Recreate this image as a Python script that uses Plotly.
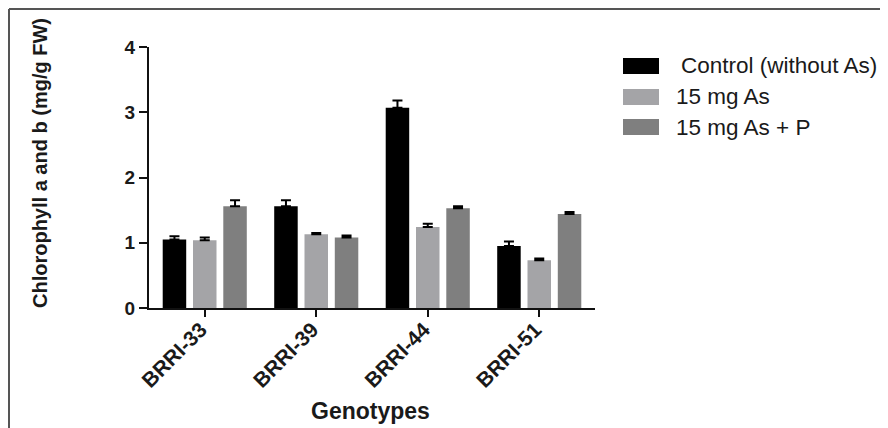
import plotly.graph_objects as go

genotypes = ["BRRI-33", "BRRI-39", "BRRI-44", "BRRI-51"]
series_names = [" Control (without As)", "15 mg As", "15 mg As + P"]
control = [1.05, 1.56, 3.07, 0.95]
control_err = [0.05, 0.09, 0.11, 0.07]
as15 = [1.04, 1.13, 1.24, 0.73]
as15_err = [0.04, 0.02, 0.05, 0.03]
as15p = [1.56, 1.08, 1.53, 1.44]
as15p_err = [0.09, 0.03, 0.03, 0.03]
y_ticks = [0, 1, 2, 3, 4]
colors = ["#000000", "#a4a4a7", "#7f7f7f"]

# the page body adds an 8px margin; lay out in window pixels and shift
OFF = 8
W, H = 888 - OFF, 428 - OFF
L, T = 149 - OFF, 47 - OFF
pw, ph = 446, 261
R, B = W - L - pw, H - T - ph

def px(x):
    return (x - OFF - L) / pw

def py(y):
    return (H - B - (y - OFF)) / ph

FONT = "Liberation Sans, Arial, Helvetica, sans-serif"
TXT = "#1a1a1a"

fig = go.Figure()
for name, vals, errs, col in zip(series_names, [control, as15, as15p],
                                 [control_err, as15_err, as15p_err], colors):
    fig.add_trace(go.Bar(
        x=genotypes, y=vals, name=name.strip(),
        marker=dict(color=col, line=dict(width=0)),
        error_y=dict(type="data", array=errs, arrayminus=[0] * len(errs),
                     symmetric=False, color="#000000", thickness=2, width=5),
        showlegend=False,
    ))

fig.update_layout(
    width=W, height=H,
    margin=dict(l=L, r=R, t=T, b=B, autoexpand=False),
    paper_bgcolor="white", plot_bgcolor="white",
    barmode="group", bargap=0.185, bargroupgap=0.224,
    font=dict(family=FONT, color=TXT),
)
fig.update_xaxes(
    range=[-0.5, 3.5], showline=True, linecolor="#111", linewidth=2,
    ticks="outside", ticklen=7, tickwidth=2, tickcolor="#111",
    tickangle=-45, tickfont=dict(family=FONT, size=21, weight="bold", color=TXT),
    ticklabelstandoff=-8, ticklabelshift=-4,
    showgrid=False, zeroline=False,
)
fig.update_yaxes(
    range=[0, 4], tickvals=y_ticks, showline=True, linecolor="#111", linewidth=2,
    ticks="outside", ticklen=8, tickwidth=2, tickcolor="#111",
    tickfont=dict(family=FONT, size=19, weight="bold", color=TXT),
    showgrid=False, zeroline=False,
)

ann = []
ann.append(dict(text="Chlorophyll a and b (mg/g FW)", textangle=-90,
                x=px(40), y=py(163), xref="paper", yref="paper",
                xanchor="center", yanchor="middle", showarrow=False,
                font=dict(family=FONT, size=20, weight="bold", color=TXT)))
ann.append(dict(text="Genotypes", x=px(370), y=py(411), xref="paper", yref="paper",
                xanchor="center", yanchor="middle", showarrow=False,
                font=dict(family=FONT, size=23, weight="bold", color=TXT)))

shapes = []
row_y = [66, 97, 127]
text_x = [679, 674, 674]
for name, col, yc, tx in zip(series_names, colors, row_y, text_x):
    shapes.append(dict(type="rect", xref="paper", yref="paper",
                       x0=px(623), x1=px(659), y0=py(yc - 8), y1=py(yc + 8),
                       fillcolor=col, line=dict(width=0)))
    ann.append(dict(text=name.strip(), x=px(tx), y=py(yc), xref="paper", yref="paper",
                    xanchor="left", yanchor="middle", showarrow=False,
                    font=dict(family=FONT, size=22.5, color=TXT)))

# outer frame lines (top and left)
shapes.append(dict(type="line", xref="paper", yref="paper",
                   x0=px(9), x1=px(900), y0=py(9), y1=py(9),
                   line=dict(color="#555", width=2)))
shapes.append(dict(type="line", xref="paper", yref="paper",
                   x0=px(9), x1=px(9), y0=py(9), y1=py(440),
                   line=dict(color="#555", width=2)))

fig.update_layout(annotations=ann, shapes=shapes)
fig.write_html("out.html")
